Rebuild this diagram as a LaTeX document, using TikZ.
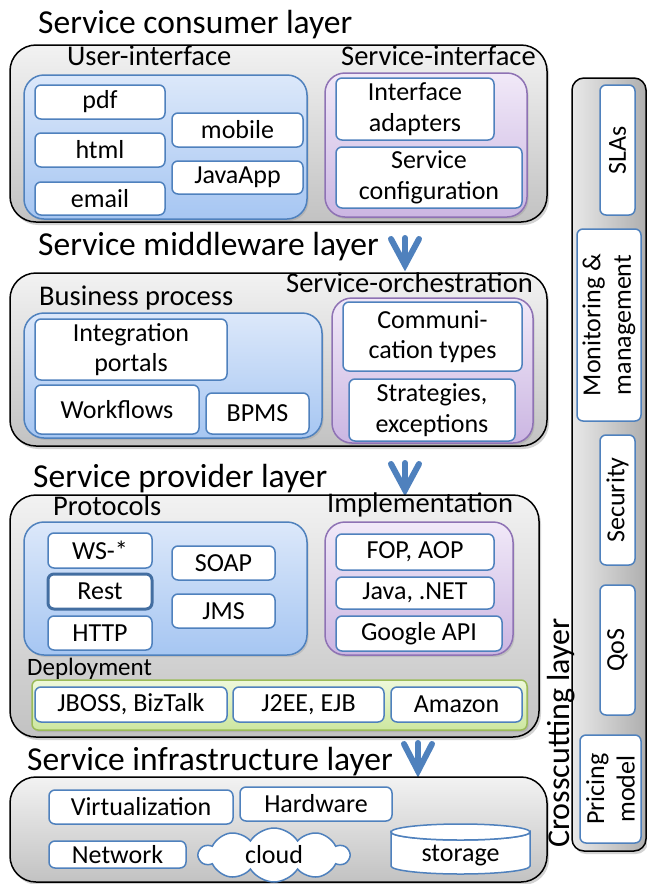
\documentclass[tikz,border=0pt]{standalone}
\usepackage{fontspec}
\setmainfont{Carlito}
\usetikzlibrary{shapes.symbols,shadows}
\definecolor{bborder}{HTML}{4F81BD}
\definecolor{btop}{HTML}{DCE8FA}
\definecolor{bbot}{HTML}{A6C6F2}
\definecolor{pborder}{HTML}{8E72B4}
\definecolor{ptop}{HTML}{F1E9F8}
\definecolor{pbot}{HTML}{CBB6E2}
\definecolor{gborder}{HTML}{9BBB59}
\definecolor{gtop}{HTML}{EEF8DA}
\definecolor{gbot}{HTML}{CDE7A0}
\definecolor{otop}{HTML}{F2F2F2}
\definecolor{obot}{HTML}{C2C2C2}
\definecolor{arrowblue}{HTML}{4F81BD}
\newcommand\mkbox[7]{\node[#1, minimum width={(#5)-(#3)}, minimum height={(#6)-(#4)}] (#2) at ({((#3)+(#5))/2},{((#4)+(#6))/2}) {#7};}
\newcommand\mkrbox[7]{\node[#1, rotate=90, minimum width={(#6)-(#4)}, minimum height={(#5)-(#3)}] (#2) at ({((#3)+(#5))/2},{((#4)+(#6))/2}) {#7};}
\tikzset{
  outerbox/.style={draw=black, line width=1.5pt, rounded corners=26pt, top color=otop, bottom color=obot, inner sep=0pt,
    drop shadow={opacity=0.35, shadow xshift=2pt, shadow yshift=-3pt}},
  crossbox/.style={draw=black, line width=1.5pt, rounded corners=12pt, left color=otop!80!obot, right color=obot!90!black, inner sep=0pt,
    drop shadow={opacity=0.35, shadow xshift=2pt, shadow yshift=-3pt}},
  bluebox/.style={draw=bborder, line width=1.5pt, rounded corners=20pt, top color=btop, bottom color=bbot, inner sep=0pt,
    drop shadow={opacity=0.25, shadow xshift=1.5pt, shadow yshift=-2pt}},
  purplebox/.style={draw=pborder, line width=1.5pt, rounded corners=20pt, top color=ptop, bottom color=pbot, inner sep=0pt,
    drop shadow={opacity=0.25, shadow xshift=1.5pt, shadow yshift=-2pt}},
  greenbox/.style={draw=gborder, line width=1.5pt, rounded corners=6pt, top color=gtop, bottom color=gbot, inner sep=0pt,
    drop shadow={opacity=0.25, shadow xshift=1.5pt, shadow yshift=-2pt}},
  item/.style={draw=bborder, line width=1.5pt, fill=white, rounded corners=6pt, inner sep=0pt, align=center,
    font=\fontsize{26}{30.5}\selectfont},
  thickitem/.style={item, line width=3pt, draw=bborder!85!black},
  titletext/.style={anchor=base west, inner sep=0pt, font=\fontsize{33.5}{36}\selectfont},
  labeltext/.style={anchor=base west, inner sep=0pt, font=\fontsize{28.5}{31}\selectfont},
  arrowline/.style={draw=arrowblue, line width=6pt, line cap=round, line join=miter},
  cyl/.style={draw=bborder, line width=1.5pt, fill=white},
}
\begin{document}
\begin{tikzpicture}[x=1pt,y=-1pt]
\useasboundingbox (0,0) rectangle (646,884);
\fill[white] (0,0) rectangle (646,884);

% crosscutting layer
\mkbox{crossbox}{cross}{572}{78}{646}{851}{}
\mkrbox{item}{slas}{600}{85}{635}{215}{SLAs}
\mkrbox{item}{monitor}{577}{229}{641}{421}{Monitoring \&\\management}
\mkrbox{item}{security}{600}{435}{635}{565}{Security}
\mkrbox{item}{qos}{600}{585}{635}{715}{QoS}
\mkrbox{item}{pricing}{580}{735}{641}{843}{Pricing\\model}
\node[titletext, font=\fontsize{32}{34}\selectfont, rotate=90] (crosstitle) at (569,848) {Crosscutting layer};

% consumer layer
\node[titletext] (t1) at (38,33) {Service consumer layer};
\mkbox{outerbox}{consumer}{10}{45}{547}{222}{}
\mkbox{bluebox}{ui}{24}{75}{307}{219}{}
\node[labeltext] (uil) at (67,65) {User-interface};
\mkbox{item}{pdf}{35}{85}{165}{119}{pdf}
\mkbox{item}{html}{35}{133}{165}{167}{html}
\mkbox{item}{email}{35}{182}{165}{215}{email}
\mkbox{item}{mobile}{172}{113}{303}{147}{mobile}
\mkbox{item}{javaapp}{172}{161}{303}{194}{JavaApp}
\mkbox{purplebox}{si}{325}{73}{527}{217}{}
\node[labeltext] (sil) at (341,65) {Service-interface};
\mkbox{item}{ia}{336}{78}{494}{140}{Interface\\adapters}
\mkbox{item}{sc}{336}{147}{522}{208}{Service\\configuration}

% arrow 1
\coordinate (a1l) at (391,239); \coordinate (a1c) at (405,238); \coordinate (a1r) at (419,239); \coordinate (a1t) at (405,265);
\draw[arrowline] (a1l) -- (a1t) -- (a1r); \draw[arrowline] (a1c) -- (a1t);

% middleware layer
\node[titletext] (t2) at (38,255) {Service middleware layer};
\mkbox{outerbox}{middleware}{10}{273}{547}{446}{}
\mkbox{bluebox}{bp}{24}{313}{322}{438}{}
\node[labeltext] (bpl) at (39,305) {Business process};
\mkbox{item}{ip}{35}{319}{227}{380}{Integration\\portals}
\mkbox{item}{wf}{35}{385}{199}{434}{Workflows}
\mkbox{item}{bpms}{206}{393}{309}{434}{BPMS}
\node[labeltext] (sol) at (286,292) {Service-orchestration};
\mkbox{purplebox}{so}{332}{298}{533}{443}{}
\mkbox{item}{ct}{343}{302}{522}{371}{Communi-\\cation types}
\mkbox{item}{se}{349}{379}{515}{441}{Strategies,\\exceptions}

% arrow 2
\coordinate (a2l) at (391,464); \coordinate (a2c) at (405,463); \coordinate (a2r) at (419,464); \coordinate (a2t) at (405,490);
\draw[arrowline] (a2l) -- (a2t) -- (a2r); \draw[arrowline] (a2c) -- (a2t);

% provider layer
\node[titletext] (t3) at (33,487) {Service provider layer};
\mkbox{outerbox}{provider}{10}{495}{539}{737}{}
\node[labeltext] (protl) at (53,515) {Protocols};
\mkbox{bluebox}{prot}{24}{522}{307}{655}{}
\mkbox{item}{ws}{48}{533}{152}{568}{WS-*}
\mkbox{thickitem}{rest}{48}{574}{152}{609}{Rest}
\mkbox{item}{http}{48}{616}{152}{650}{HTTP}
\mkbox{item}{soap}{172}{546}{275}{580}{SOAP}
\mkbox{item}{jms}{172}{594}{275}{628}{JMS}
\node[labeltext] (impl) at (327,512) {Implementation};
\mkbox{purplebox}{imp}{325}{522}{513}{655}{}
\mkbox{item}{fop}{336}{534}{494}{570}{FOP, AOP}
\mkbox{item}{java}{336}{577}{494}{609}{Java, .NET}
\mkbox{item}{google}{336}{616}{502}{651}{Google API}
\node[labeltext, font=\fontsize{25}{28}\selectfont] (depl) at (27,675) {Deployment};
\mkbox{greenbox}{dep}{32}{680}{527}{730}{}
\mkbox{item}{jboss}{35}{687}{227}{722}{JBOSS, BizTalk}
\mkbox{item}{j2ee}{233}{687}{384}{722}{J2EE, EJB}
\mkbox{item}{amazon}{391}{687}{522}{722}{Amazon}

% arrow 3
\coordinate (a3l) at (404,744); \coordinate (a3c) at (418,743); \coordinate (a3r) at (432,744); \coordinate (a3t) at (418,771);
\draw[arrowline] (a3l) -- (a3t) -- (a3r); \draw[arrowline] (a3c) -- (a3t);

% infrastructure layer
\node[titletext] (t4) at (27,770) {Service infrastructure layer};
\mkbox{outerbox}{infra}{10}{777}{547}{882}{}
\mkbox{item}{virt}{49}{790}{233}{824}{Virtualization}
\mkbox{item}{hw}{240}{787}{392}{821}{Hardware}
\mkbox{item}{net}{49}{841}{186}{868}{Network}
\node[cloud, draw=bborder, fill=white, line width=1.5pt, cloud puffs=10, cloud puff arc=115, aspect=2.8,
  inner sep=0pt, minimum width=150, minimum height=54, font=\fontsize{26}{29}\selectfont] (cloud) at (274,855) {};
\node[inner sep=0pt, font=\fontsize{26}{29}\selectfont] (cloudtext) at (cloud.center) {cloud};
\path[cyl] (391,832) -- (391,866) arc[start angle=180, end angle=360, x radius=69.5pt, y radius=8pt] -- (530,832)
  arc[start angle=0, end angle=-180, x radius=69.5pt, y radius=8pt] -- cycle;
\draw[cyl] (460.5,832) ellipse [x radius=69.5pt, y radius=8pt];
\node[inner sep=0pt, font=\fontsize{26}{29}\selectfont] (storage) at (460.5,856) {storage};
\end{tikzpicture}
\end{document}
